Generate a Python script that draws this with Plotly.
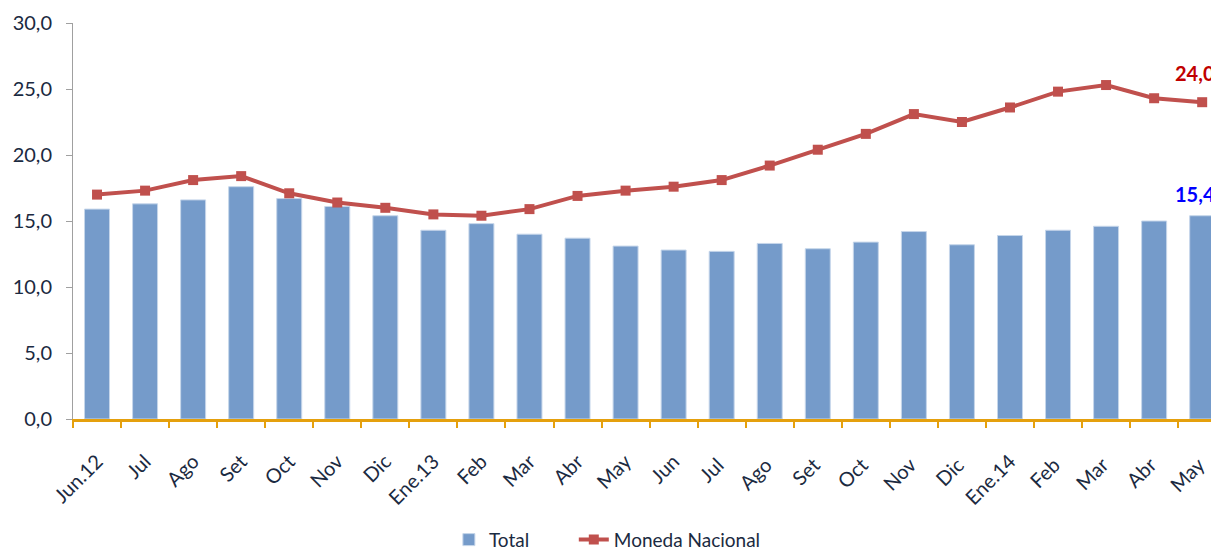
import plotly.graph_objects as go

categories = ["Jun.12", "Jul", "Ago", "Set", "Oct", "Nov", "Dic", "Ene.13", "Feb", "Mar", "Abr", "May",
              "Jun", "Jul ", "Ago ", "Set ", "Oct ", "Nov ", "Dic ", "Ene.14", "Feb ", "Mar ", "Abr ", "May "]
total = [15.9, 16.3, 16.6, 17.6, 16.7, 16.1, 15.4, 14.3, 14.8, 14.0, 13.7, 13.1,
         12.8, 12.7, 13.3, 12.9, 13.4, 14.2, 13.2, 13.9, 14.3, 14.6, 15.0, 15.4]
moneda_nacional = [17.0, 17.3, 18.1, 18.4, 17.1, 16.4, 16.0, 15.5, 15.4, 15.9, 16.9, 17.3,
                   17.6, 18.1, 19.2, 20.4, 21.6, 23.1, 22.5, 23.6, 24.8, 25.3, 24.3, 24.0]
y_ticks = [0, 5, 10, 15, 20, 25, 30]

FONT = "Lato, 'Open Sans', sans-serif"
TXT = "#1B2A41"

def fmt(v):
    return f"{v:.1f}".replace(".", ",")

fig = go.Figure()
fig.add_trace(go.Bar(
    x=categories, y=total, name="Total",
    marker=dict(color="#759BCA", line=dict(color="#C6D6EA", width=1)),
    width=0.52, legend="legend",
))
fig.add_trace(go.Scatter(
    x=categories, y=moneda_nacional, name="Moneda Nacional", mode="lines+markers",
    line=dict(color="#C0504D", width=4),
    marker=dict(symbol="square", size=10, color="#C0504D"),
    legend="legend2",
))

fig.add_annotation(x=categories[-1], y=moneda_nacional[-1], text="<b>" + fmt(moneda_nacional[-1]) + "</b>",
                   showarrow=False, xanchor="right", xshift=15, yshift=29,
                   font=dict(family=FONT, size=20, color="#C00000"))
fig.add_annotation(x=categories[-1], y=total[-1], text="<b>" + fmt(total[-1]) + "</b>",
                   showarrow=False, xanchor="right", xshift=15, yshift=22,
                   font=dict(family=FONT, size=20, color="#0000FF"))

legend_style = dict(orientation="h", xanchor="left", yanchor="top", y=-0.257,
                    font=dict(family=FONT, size=19, color=TXT),
                    bgcolor="rgba(0,0,0,0)")

# page body has an 8px default margin: the figure is sized/offset to compensate
fig.update_layout(
    width=1211, height=543,
    margin=dict(l=65, r=0, t=15, b=132, autoexpand=False),
    paper_bgcolor="white", plot_bgcolor="white",
    separators=",.",
    bargap=0.48,
    font=dict(family=FONT, size=20, color=TXT),
    showlegend=True,
    legend=dict(x=0.328, **legend_style),
    legend2=dict(x=0.437, **legend_style),
)
fig.update_xaxes(
    type="category", range=[-0.5, 23.35], automargin=False,
    showline=True, linecolor="#E5A00D", linewidth=3,
    ticks="outside", tickson="boundaries", ticklen=6, tickcolor="#E5A00D", tickwidth=2,
    tickangle=-45, tickfont=dict(family=FONT, size=20, color=TXT),
    ticklabelstandoff=20,
    showgrid=False, zeroline=False,
)
fig.update_yaxes(
    range=[0, 30], tickvals=y_ticks, tickformat=".1f", automargin=False,
    showline=True, linecolor="#A0A0A0", linewidth=1,
    ticks="outside", ticklen=6, tickcolor="#A0A0A0",
    tickfont=dict(family=FONT, size=20, color=TXT),
    ticklabelstandoff=10,
    showgrid=False, zeroline=False,
)

fig.write_html("out.html")
